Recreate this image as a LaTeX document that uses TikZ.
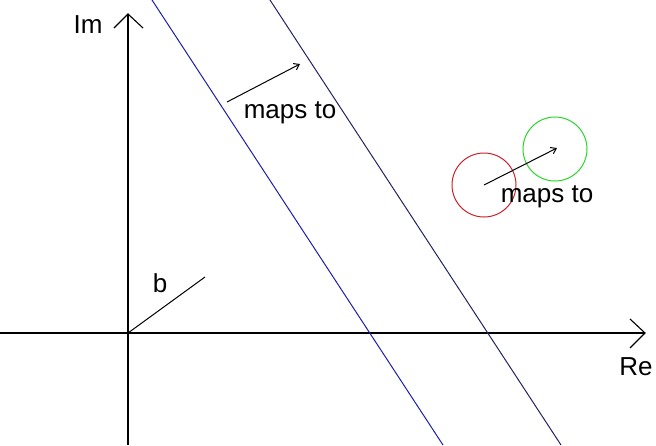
\documentclass[tikz,border=0pt]{standalone}
\usepackage{fontspec}
\setmainfont{Liberation Sans}
\usetikzlibrary{arrows.meta}
\begin{document}
\begin{tikzpicture}[x=1pt,y=-1pt,
  lbl/.style={inner sep=0pt,font=\fontsize{26}{30}\selectfont},
  axis/.style={line width=1.2pt,black},
  vhead/.style={line width=1.1pt,black},
  lineA/.style={line width=1pt,color={rgb,255:red,30;green,30;blue,170}},
  lineB/.style={line width=1pt,color={rgb,255:red,35;green,35;blue,100}},
  mapsarrow/.style={line width=1pt,black,-{Straight Barb[length=5pt,width=7pt]}},
  circ/.style={line width=1pt,circle,minimum size=64pt,inner sep=0pt}]
\useasboundingbox (0,0) rectangle (656,445);
% axes
\coordinate (o) at (128,333);
\coordinate (imtop) at (128,14);
\coordinate (imbot) at (128,445);
\coordinate (reL) at (0,333);
\coordinate (reR) at (645,333);
\draw[axis] (imbot) -- (imtop);
\draw[axis] (reL) -- (reR);
\coordinate (imA) at (114,28);
\coordinate (imB) at (143,28);
\draw[vhead] (imA) -- (imtop) -- (imB);
\coordinate (reA) at (630,319);
\coordinate (reB) at (630,348);
\draw[vhead] (reA) -- (reR) -- (reB);
\node[lbl] (im) at (88,25) {Im};
\node[lbl] (re) at (636,367) {Re};
% parallel lines
\coordinate (a1) at (152,0);
\coordinate (a2) at (443,445);
\coordinate (b1) at (270,0);
\coordinate (b2) at (561,445);
\draw[lineA] (a1) -- (a2);
\draw[lineB] (b1) -- (b2);
% top maps-to arrow
\coordinate (m1s) at (227,102);
\coordinate (m1e) at (300,64);
\draw[mapsarrow] (m1s) -- (m1e);
\node[lbl] (maps1) at (290,113) {maps to};
% circles
\node[circ,draw={rgb,255:red,200;green,35;blue,45}] (rc) at (484,185) {};
\node[circ,draw={rgb,255:red,40;green,215;blue,40}] (gc) at (555,149) {};
\coordinate (m2e) at (557,148);
\draw[mapsarrow] (rc.center) -- (m2e);
\node[lbl] (maps2) at (547,197) {maps to};
% b segment
\coordinate (bend) at (205,277);
\draw[line width=1pt] (o) -- (bend);
\node[lbl] (b) at (160,283) {b};
\end{tikzpicture}
\end{document}
